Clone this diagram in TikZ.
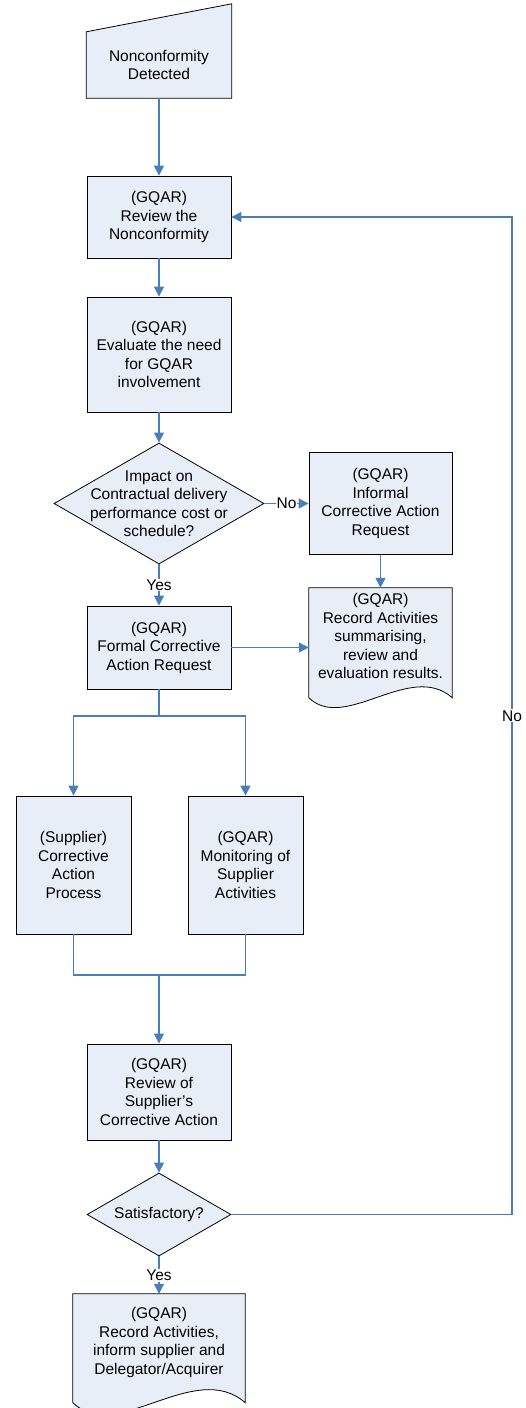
\documentclass[tikz,border=0pt]{standalone}
\usepackage{fontspec}
\setmainfont{Liberation Sans}
\usetikzlibrary{arrows.meta,shapes.geometric,calc}
\definecolor{boxfill}{RGB}{232,238,247}
\definecolor{linkblue}{RGB}{74,126,187}
\newcommand{\dfont}{\fontsize{15.5}{18.5}\selectfont}
\newcommand{\wavedoc}[2]{\filldraw[docline] (#1.north west) -- (#1.north east) -- (#1.south east) .. controls ($(#1.south east)+(-42*#2,-37*#2)$) and ($(#1.south west)+(36*#2,35*#2)$) .. (#1.south west) -- cycle;}
\begin{document}
\begin{tikzpicture}[x=1pt,y=-1pt,
  box/.style={draw=black, fill=boxfill, line width=0.8pt, inner sep=0pt, align=center, font=\dfont},
  docbox/.style={draw=none, fill=none, inner sep=0pt},
  docline/.style={draw=black, fill=boxfill, line width=0.8pt},
  dia/.style={diamond, draw=black, fill=boxfill, line width=0.8pt, inner sep=0pt},
  txt/.style={align=center, font=\dfont, inner sep=0pt},
  conn/.style={draw=linkblue, line width=1.2pt},
  arr/.style={conn, -{Triangle[length=10pt,width=10pt]}},
  lab/.style={fill=white, inner sep=1pt, font=\dfont}]
\useasboundingbox (0,0) rectangle (526,1408);

% Manual input
\node[docbox, minimum width=145pt, minimum height=94pt] (nd) at (159,51) {};
\filldraw[docline] (nd.south west) -- ($(nd.north west)+(0,28)$) -- (nd.north east) -- (nd.south east) -- cycle;
\node[txt] at (159,65) {Nonconformity\\Detected};

\node[box, minimum width=144pt, minimum height=82pt] (rev) at (159,217) {(GQAR)\\Review the\\Nonconformity};
\node[box, minimum width=144pt, minimum height=115pt] (eval) at (159,354.5) {(GQAR)\\Evaluate the need\\for GQAR\\involvement};

\node[dia, minimum width=210pt, minimum height=121pt] (dec) at (159,503.5) {};
\node[txt] at (dec.center) {Impact on\\Contractual delivery\\performance cost or\\schedule?};

\node[box, minimum width=143pt, minimum height=102pt] (inf) at (380.5,503.5) {(GQAR)\\Informal\\Corrective Action\\Request};

\node[docbox, minimum width=143pt, minimum height=109.5pt] (doc1) at (380.5,642.75) {};
\wavedoc{doc1}{1}
\node[txt] at (380.5,636) {(GQAR)\\Record Activities\\summarising,\\review and\\evaluation results.};

\node[box, minimum width=144pt, minimum height=83pt] (formal) at (159,647.5) {(GQAR)\\Formal Corrective\\Action Request};

\node[box, minimum width=115pt, minimum height=138pt] (sup) at (73.5,865) {(Supplier)\\Corrective\\Action\\Process};
\node[box, minimum width=115pt, minimum height=138pt] (mon) at (245.5,865) {(GQAR)\\Monitoring of\\Supplier\\Activities};

\node[box, minimum width=144pt, minimum height=96pt] (rsca) at (159,1092) {(GQAR)\\Review of\\Supplier’s\\Corrective Action};

\node[dia, minimum width=144pt, minimum height=83pt] (sat) at (159,1214.5) {};
\node[txt] at (sat.center) {Satisfactory?};

\node[docbox, minimum width=172pt, minimum height=108.5pt] (fin) at (159,1348.25) {};
\wavedoc{fin}{1.2}
\node[txt] at (159,1342.5) {(GQAR)\\Record Activities,\\inform supplier and\\Delegator/Acquirer};

% connectors
\draw[arr] (nd.south) -- (rev.north);
\draw[arr] (rev.south) -- (eval.north);
\draw[arr] (eval.south) -- (dec.north);
\draw[arr] (dec.east) -- node[lab]{No} (dec.east -| inf.west);
\draw[arr] (dec.south) -- node[lab]{Yes} (formal.north);
\draw[arr] (inf.south) -- (doc1.north);
\draw[arr] (formal.east) -- (formal.east -| doc1.west);

\coordinate (split) at (159,716);
\draw[conn] (formal.south) -- (split);
\draw[arr] (split) -| (sup.north);
\draw[arr] (split) -| (mon.north);

\coordinate (join) at (159,975);
\draw[conn] (sup.south) |- (join);
\draw[conn] (mon.south) |- (join);
\draw[arr] (join) -- (rsca.north);

\draw[arr] (rsca.south) -- (sat.north);
\coordinate (loop) at (512,1214.5);
\draw[arr] (sat.east) -- (loop) |- node[lab, pos=0.25]{No} (rev.east);
\draw[arr] (sat.south) -- node[lab]{Yes} (fin.north);
\end{tikzpicture}
\end{document}
